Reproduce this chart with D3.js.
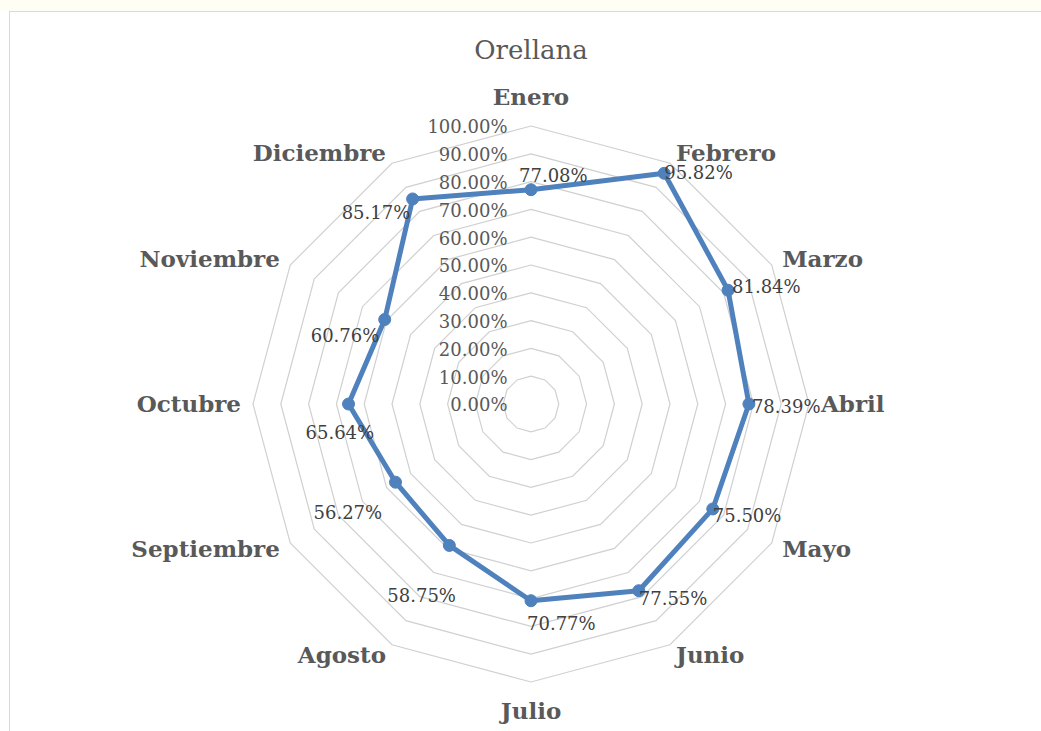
<!DOCTYPE html>
<html>
<head>
<meta charset="utf-8">
<script src="https://cdn.jsdelivr.net/npm/d3@7"></script>
<style>
  html, body { margin: 0; padding: 0; background: #ffffff; }
  svg { display: block; }
</style>
</head>
<body>
<svg id="chart" width="1041" height="731"></svg>
<script>
// ---- data ----
const title = "Orellana";
const categories = ["Enero", "Febrero", "Marzo", "Abril", "Mayo", "Junio",
  "Julio", "Agosto", "Septiembre", "Octubre", "Noviembre", "Diciembre"];
const values = [0.7708, 0.9582, 0.8184, 0.7839, 0.7550, 0.7755,
  0.7077, 0.5875, 0.5627, 0.6564, 0.6076, 0.8517];
const tickValues = [0, 0.1, 0.2, 0.3, 0.4, 0.5, 0.6, 0.7, 0.8, 0.9, 1.0];

// ---- layout (data-label offsets relative to each point: [dx, dy]) ----
const labelOffsets = [[-12, -14], [0, -1], [4, -4], [3, 3], [0, 7], [0, 8],
  [-4, 23], [-62, 50], [-82, 30], [-43, 29], [-74, 16], [-71, 14]];

const W = 1041, H = 731;
const cx = 531, cy = 404, R = 278;
const serif = "'DejaVu Serif', 'Liberation Serif', serif";

const svg = d3.select("#chart");

// page strip and chart border
svg.append("rect").attr("x", 0).attr("y", 0).attr("width", W).attr("height", 11).attr("fill", "#fefef5");
svg.append("rect").attr("x", 9.5).attr("y", 11.5).attr("width", W + 10).attr("height", H + 10)
  .attr("fill", "#ffffff").attr("stroke", "#d9d9d9").attr("stroke-width", 1);

const r = d3.scaleLinear().domain([0, 1]).range([0, R]);
const angle = d3.scaleLinear().domain([0, categories.length]).range([0, 2 * Math.PI]);

const g = svg.append("g").attr("transform", `translate(${cx},${cy})`);

// grid rings
const ringLine = d3.lineRadial()
  .angle((d, i) => angle(i))
  .radius(d => r(d))
  .curve(d3.curveLinearClosed);

g.selectAll("path.ring")
  .data(tickValues.filter(t => t > 0))
  .join("path")
  .attr("class", "ring")
  .attr("d", t => ringLine(categories.map(() => t)))
  .attr("fill", "none")
  .attr("stroke", "#d0d0d0")
  .attr("stroke-width", 1.2);

// tick labels
const fmt = d3.format(".2%");
g.selectAll("text.tick")
  .data(tickValues)
  .join("text")
  .attr("class", "tick")
  .attr("x", -23.5)
  .attr("y", t => -r(t) + 1)
  .attr("dy", "0.35em")
  .attr("text-anchor", "end")
  .attr("font-family", serif)
  .attr("font-size", 18)
  .attr("fill", "#595959")
  .text(t => fmt(t));

// category labels
g.selectAll("text.cat")
  .data(categories)
  .join("text")
  .attr("class", "cat")
  .each(function (c, i) {
    const a = angle(i);
    const s = Math.sin(a), co = Math.cos(a);
    const vx = R * s, vy = -R * co;
    const vertical = Math.abs(s) < 0.01;
    d3.select(this)
      .attr("x", vx + 12 * s)
      .attr("y", vy - co * (vertical ? 29 : 11.5))
      .attr("text-anchor", vertical ? "middle" : (s > 0 ? "start" : "end"));
  })
  .attr("dy", "0.35em")
  .attr("font-family", serif)
  .attr("font-size", 23)
  .attr("font-weight", "bold")
  .attr("fill", "#595959")
  .text(d => d);

// series line
const seriesLine = d3.lineRadial()
  .angle((d, i) => angle(i))
  .radius(d => r(d))
  .curve(d3.curveLinearClosed);

g.append("path")
  .attr("d", seriesLine(values))
  .attr("fill", "none")
  .attr("stroke", "#4f81bd")
  .attr("stroke-width", 5)
  .attr("stroke-linejoin", "round");

const px = (d, i) => r(d) * Math.sin(angle(i));
const py = (d, i) => -r(d) * Math.cos(angle(i));

g.selectAll("circle.pt")
  .data(values)
  .join("circle")
  .attr("class", "pt")
  .attr("cx", px)
  .attr("cy", py)
  .attr("r", 6)
  .attr("fill", "#4f81bd")
  .attr("stroke", "#4f81bd")
  .attr("stroke-width", 1);

// data labels
g.selectAll("text.dl")
  .data(values)
  .join("text")
  .attr("class", "dl")
  .attr("x", (d, i) => px(d, i) + labelOffsets[i][0])
  .attr("y", (d, i) => py(d, i) + labelOffsets[i][1])
  .attr("dy", "0.35em")
  .attr("text-anchor", "start")
  .attr("font-family", serif)
  .attr("font-size", 18)
  .attr("fill", "#404040")
  .text(d => fmt(d));

// title
svg.append("text")
  .attr("x", cx)
  .attr("y", 59)
  .attr("text-anchor", "middle")
  .attr("font-family", serif)
  .attr("font-size", 26)
  .attr("fill", "#595959")
  .text(title);
</script>
</body>
</html>
